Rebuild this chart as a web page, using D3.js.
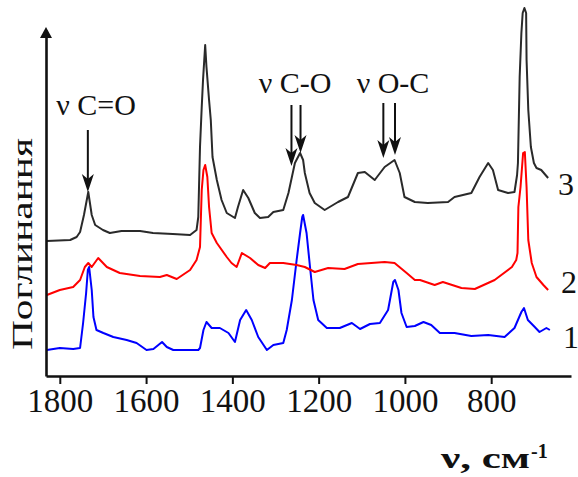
<!DOCTYPE html>
<html><head><meta charset="utf-8">
<script src="https://cdn.jsdelivr.net/npm/d3@7"></script>
<style>
html,body{margin:0;padding:0;background:#fff;}
svg{display:block;}
text{font-family:"Liberation Serif","Times New Roman",serif;}
</style></head>
<body>
<svg id="chart" width="578" height="477"></svg>
<script>
// Wavenumbers (cm^-1) and absorbance (arbitrary units, offset traces)
const wn3 = [1830,1776,1761,1753,1744,1734,1726,1718,1700,1684,1657,1614,1584,1538,1498,1483,1479,1475,1471,1468,1463,1460,1454,1450,1446,1436,1425,1413,1394,1387,1375,1363,1348,1336,1317,1305,1282,1270,1262,1255,1243,1236,1232,1221,1209,1186,1155,1132,1109,1093,1070,1047,1024,1012,1001,977,947,900,885,846,827,807,796,784,761,746,740,738,734,730,727,723,719,718,714,708,701,695,684,668];
const abs3 = [135,136,139,144,161,184,161,151,146,143,145,145,143,142,141,146,159,229,269,296,331,309,276,256,219,196,176,163,158,169,186,178,163,158,159,164,166,183,199,213,223,216,203,183,173,166,174,179,203,204,196,209,216,203,179,174,173,174,179,183,199,213,206,186,183,184,201,213,299,343,363,368,363,316,266,229,213,208,206,198];

const wn2 = [1830,1800,1769,1753,1742,1734,1726,1711,1691,1661,1614,1568,1552,1529,1498,1483,1475,1471,1467,1463,1458,1454,1448,1436,1413,1402,1390,1378,1359,1340,1324,1313,1282,1251,1232,1209,1178,1140,1109,1047,1024,996,977,965,931,912,869,838,792,752,742,739,737,732,726,722,718,714,706,695,679,668];
const abs2 = [81,86,89,96,109,113,109,118,109,103,100,99,101,97,106,116,129,186,206,211,199,169,143,133,119,113,109,123,118,111,108,113,113,111,109,104,108,107,112,114,113,103,96,96,91,94,88,87,96,109,116,123,169,189,223,224,189,136,113,99,91,86];

const wn1 = [1830,1800,1769,1753,1746,1739,1735,1732,1726,1722,1715,1699,1676,1645,1622,1599,1583,1563,1552,1537,1479,1475,1467,1460,1448,1429,1409,1394,1382,1368,1355,1340,1320,1305,1282,1274,1262,1251,1243,1238,1236,1228,1220,1212,1201,1181,1151,1123,1104,1081,1058,1039,1027,1023,1015,1008,996,977,957,939,919,885,846,807,769,746,730,724,715,699,688,672,664];
const abs1 = [26,28,27,28,53,83,106,109,86,59,46,43,39,36,33,26,27,34,29,26,26,28,46,54,48,48,43,34,56,66,56,39,26,31,33,46,76,116,143,159,161,143,109,76,56,48,48,53,47,52,53,66,94,96,86,63,49,50,54,51,43,43,40,41,39,48,64,68,56,49,44,48,46];

const xTicks = [1800,1600,1400,1200,1000,800];
const seriesNames = ["1","2","3"];
const annotations = ["ν C=O","ν C-O","ν O-C"];
// arrow targets: wavenumber, start and end absorbance level
const arrowWn = [1735,1263,1242,1050,1023];
const arrowTop = [246,271,271,273,273];
const arrowTip = [184,210,223,218,221];

const svg = d3.select("#chart");
const x = d3.scaleLinear().domain([1832,615]).range([46,571]);
const y = d3.scaleLinear().domain([0,346]).range([376,30]);

const line = d3.line().x(d=>x(d[0])).y(d=>y(d[1]));
const series = [
  {wn:wn1, a:abs1, color:"#0000ff"},
  {wn:wn2, a:abs2, color:"#ff0000"},
  {wn:wn3, a:abs3, color:"#2a2a2a"}
];
series.forEach(s=>{
  svg.append("path")
    .datum(s.wn.map((w,i)=>[w,s.a[i]]))
    .attr("d",line).attr("fill","none")
    .attr("stroke",s.color).attr("stroke-width",2)
    .attr("stroke-linejoin","round");
});

// X axis
const xAxis = svg.append("g").attr("transform","translate(0,376)")
  .call(d3.axisBottom(x).tickValues(xTicks).tickSize(8).tickSizeOuter(0).tickPadding(4).tickFormat(d3.format("d")));
xAxis.select(".domain").attr("stroke","#111").attr("stroke-width",2.6);
xAxis.selectAll(".tick line").attr("stroke","#111").attr("stroke-width",2);
xAxis.selectAll(".tick text").attr("font-size",33).attr("fill","#111")
  .attr("font-family","'Liberation Serif',serif").attr("y",null).attr("dy",null)
  .attr("transform","translate(0,36)");

// Y axis
const yAxis = svg.append("g").attr("transform","translate(46,0)")
  .call(d3.axisLeft(y).tickValues([]).tickSizeOuter(0));
yAxis.select(".domain").attr("stroke","#111").attr("stroke-width",2.6);
svg.append("path").attr("d",`M40,38 L46,${y(346)-3} L52,38 Z`).attr("fill","#111");

// Y label
svg.append("text").attr("transform","translate(32,244) rotate(-90)")
  .attr("text-anchor","middle").attr("font-size",30).attr("fill","#111")
  .attr("textLength",212).attr("lengthAdjust","spacingAndGlyphs")
  .text("Поглинання");

// X title
svg.append("text").attr("x",441).attr("y",468).attr("font-size",30)
  .attr("font-weight","bold").attr("fill","#111")
  .attr("textLength",89).attr("lengthAdjust","spacingAndGlyphs").text("ν, см");
svg.append("text").attr("x",531).attr("y",458).attr("font-size",20)
  .attr("font-weight","bold").attr("fill","#111").text("-1");

// Series labels
const labelY = [348,293,195];
const labelX = [563,561,558];
seriesNames.forEach((n,i)=>{
  svg.append("text").attr("x",labelX[i]).attr("y",labelY[i])
    .attr("font-size",32).attr("fill","#111").text(n);
});

// Annotation texts
const annX = [96,295,393];
const annY = [115,93,93];
annotations.forEach((t,i)=>{
  svg.append("text").attr("x",annX[i]).attr("y",annY[i]).attr("text-anchor","middle")
    .attr("font-size",30).attr("fill","#111").text(t);
});

// Arrows
arrowWn.forEach((w,i)=>{
  const ax = x(w), y0 = y(arrowTop[i]), y1 = y(arrowTip[i]);
  svg.append("line").attr("x1",ax).attr("x2",ax).attr("y1",y0).attr("y2",y1-12)
    .attr("stroke","#111").attr("stroke-width",2);
  svg.append("path").attr("d",`M${ax-6},${y1-18} L${ax},${y1} L${ax+6},${y1-18} L${ax},${y1-13} Z`)
    .attr("fill","#111");
});
</script>
</body></html>
